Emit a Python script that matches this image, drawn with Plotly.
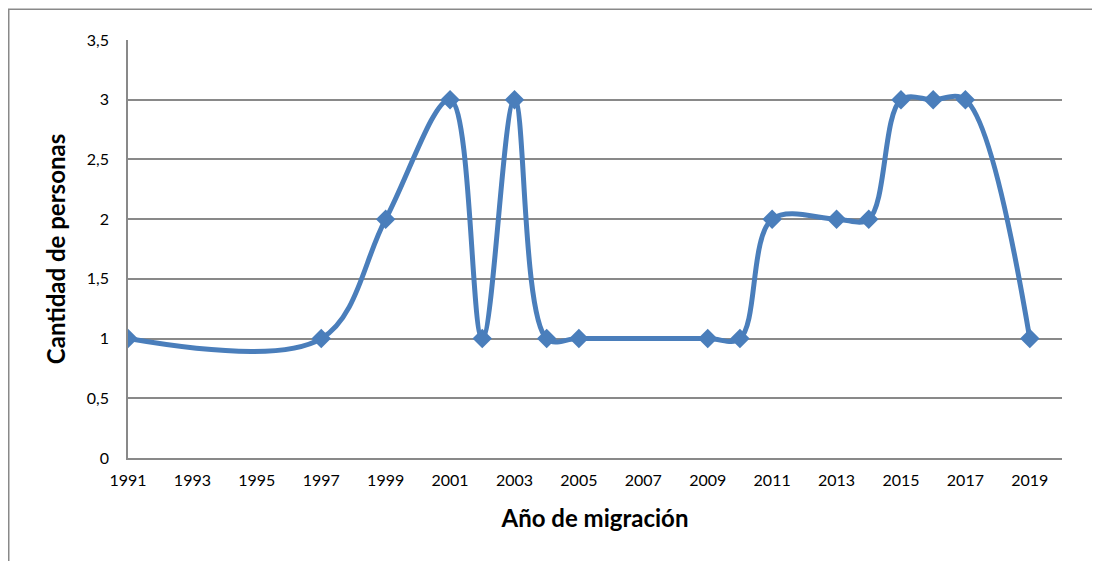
import plotly.graph_objects as go

years = [1991, 1997, 1999, 2001, 2002, 2003, 2004, 2005, 2009, 2010, 2011, 2013, 2014, 2015, 2016, 2017, 2019]
counts = [1, 1, 2, 3, 1, 3, 1, 1, 1, 1, 2, 2, 2, 3, 3, 3, 1]

x_ticks = list(range(1991, 2020, 2))
y_ticks = [0, 0.5, 1, 1.5, 2, 2.5, 3, 3.5]
y_tick_text = ["0", "0,5", "1", "1,5", "2", "2,5", "3", "3,5"]

LINE = "#4A7EBB"
GRID = "#898989"
FONT = "Lato"

L, T, PW, PH = 120, 32, 934, 418

fig = go.Figure()
fig.add_trace(go.Scatter(
    x=years, y=counts, mode="lines+markers",
    line=dict(color=LINE, width=5, shape="spline", smoothing=1),
    marker=dict(symbol="diamond", size=15, color=LINE),
    showlegend=False, hoverinfo="x+y",
))

fig.update_layout(
    width=1100, height=561,
    margin=dict(l=L, r=1100 - L - PW, t=T, b=561 - T - PH),
    paper_bgcolor="white", plot_bgcolor="white",
    font=dict(family=FONT, size=16, color="#000000"),
    xaxis=dict(
        range=[1991, 2020], tickvals=x_ticks, ticktext=[str(v) for v in x_ticks],
        showgrid=False, zeroline=False, showline=True, linecolor=GRID, linewidth=1.5,
        ticks="", ticklabelstandoff=7,
        title=dict(text="<b>Año de migración</b>", font=dict(family=FONT, size=24), standoff=22),
        automargin=False,
    ),
    yaxis=dict(
        range=[0, 3.5], tickvals=y_ticks, ticktext=y_tick_text,
        showgrid=True, gridcolor=GRID, gridwidth=1.5, zeroline=False,
        showline=True, linecolor=GRID, linewidth=1.5, mirror=False,
        ticks="", ticklabelstandoff=14,
        title=dict(text="<b>Cantidad de personas</b>", font=dict(family=FONT, size=24), standoff=14),
        automargin=False,
    ),
    shapes=[dict(
        type="rect", xref="paper", yref="paper",
        x0=(0.75 - L) / PW, x1=(1130 - L) / PW,
        y0=(T + PH - 600) / PH, y1=(T + PH - 1.25) / PH,
        line=dict(color=GRID, width=1.5), fillcolor="rgba(0,0,0,0)", layer="below",
    )],
)

fig.write_html("out.html")
